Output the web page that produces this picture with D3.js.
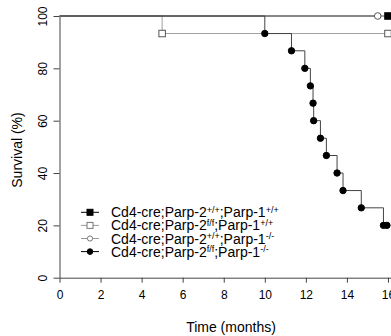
<!DOCTYPE html>
<html>
<head>
<meta charset="utf-8">
<script src="https://cdn.jsdelivr.net/npm/d3@7"></script>
<style>
  body { margin: 0; background: #fff; }
  svg { font-family: "Liberation Sans", Arial, sans-serif; }
</style>
</head>
<body>
<svg id="chart" width="391" height="336"></svg>
<script>
// data
const xTicks = [0, 2, 4, 6, 8, 10, 12, 14, 16];
const yTicks = [0, 20, 40, 60, 80, 100];

// Cd4-cre;Parp-2+/+;Parp-1+/+  (no deaths, censored at end)
const wtTimes = [0, 16];
const wtSurv = [100, 100];
const wtMarks = [16];
const wtMarkSurv = [100];

// Cd4-cre;Parp-2f/f;Parp-1+/+
const p2Times = [0, 5, 16];
const p2Surv = [100, 93.3, 93.3];
const p2Marks = [5, 16];
const p2MarkSurv = [93.3, 93.3];

// Cd4-cre;Parp-2+/+;Parp-1-/-
const p1Times = [0, 15.5];
const p1Surv = [100, 100];
const p1Marks = [15.5];
const p1MarkSurv = [100];

// Cd4-cre;Parp-2f/f;Parp-1-/-
const dkoTimes = [0, 10, 11.3, 11.95, 12.22, 12.35, 12.38, 12.71, 13.0, 13.52, 13.81, 14.7, 15.78, 15.95];
const dkoSurv = [100, 93.3, 86.7, 80, 73.3, 66.7, 60, 53.3, 46.7, 40, 33.3, 26.7, 20, 20];
const dkoMarks = [10, 11.3, 11.95, 12.22, 12.35, 12.38, 12.71, 13.0, 13.52, 13.81, 14.7, 15.78, 15.95];
const dkoMarkSurv = [93.3, 86.7, 80, 73.3, 66.7, 60, 53.3, 46.7, 40, 33.3, 26.7, 20, 20];

const legendLabels = [
  ["Cd4-cre;Parp-2", "+/+", ";Parp-1", "+/+"],
  ["Cd4-cre;Parp-2", "f/f", ";Parp-1", "+/+"],
  ["Cd4-cre;Parp-2", "+/+", ";Parp-1", "-/-"],
  ["Cd4-cre;Parp-2", "f/f", ";Parp-1", "-/-"]
];

const svg = d3.select("#chart");

let x = d3.scaleLinear().domain([0, 16.6]).range([59.5, 59.5 + 16.6 * 20.53]);
let y = d3.scaleLinear().domain([0, 100]).range([277.7, 16]);

// x axis
let gx = svg.append("g")
  .attr("transform", "translate(0," + y(0) + ")")
  .call(d3.axisBottom(x).tickValues(xTicks).tickSize(5).tickSizeOuter(0).tickPadding(8));
gx.select(".domain").attr("stroke", "#444");
gx.selectAll(".tick line").attr("stroke", "#444");
gx.selectAll(".tick text").attr("font-size", 12).attr("fill", "#000")
  .attr("font-family", "Liberation Sans, Arial, sans-serif");

// y axis
let gy = svg.append("g")
  .attr("transform", "translate(" + x(0) + ",0)")
  .call(d3.axisLeft(y).tickValues(yTicks).tickSize(6).tickSizeOuter(0));
gy.select(".domain").attr("stroke", "#444");
gy.selectAll(".tick line").attr("stroke", "#444");
gy.selectAll(".tick text")
  .attr("x", null).attr("dy", null)
  .attr("transform", "translate(-13,0) rotate(-90)")
  .attr("text-anchor", "middle")
  .attr("font-size", 12).attr("fill", "#000")
  .attr("font-family", "Liberation Sans, Arial, sans-serif");

// step lines
let step = d3.line()
  .x(function(d) { return x(d[0]); })
  .y(function(d) { return y(d[1]); })
  .curve(d3.curveStepAfter);

function curve(times, surv, color) {
  svg.append("path")
    .datum(d3.zip(times, surv))
    .attr("fill", "none")
    .attr("stroke", color)
    .attr("stroke-width", 1)
    .attr("d", step);
}

curve(p2Times, p2Surv, "#a0a0a0");
curve(p1Times, p1Surv, "#777");
curve(wtTimes, wtSurv, "#555");
curve(dkoTimes, dkoSurv, "#444");

// markers
function squares(times, surv, fill, size) {
  svg.selectAll(null)
    .data(d3.zip(times, surv))
    .enter()
    .append("rect")
    .attr("x", function(d) { return x(d[0]) - size / 2; })
    .attr("y", function(d) { return y(d[1]) - size / 2; })
    .attr("width", size)
    .attr("height", size)
    .attr("fill", fill)
    .attr("stroke", fill == "#fff" ? "#555" : "#000")
    .attr("stroke-width", 1);
}

function dots(times, surv, fill, r) {
  svg.selectAll(null)
    .data(d3.zip(times, surv))
    .enter()
    .append("circle")
    .attr("cx", function(d) { return x(d[0]); })
    .attr("cy", function(d) { return y(d[1]); })
    .attr("r", r)
    .attr("fill", fill)
    .attr("stroke", fill == "#fff" ? "#555" : "#000")
    .attr("stroke-width", 1);
}

squares(p2Marks, p2MarkSurv, "#fff", 6.5);
dots(p1Marks, p1MarkSurv, "#fff", 3.3);
squares(wtMarks, wtMarkSurv, "#000", 6.5);
dots(dkoMarks, dkoMarkSurv, "#000", 3.2);

// legend
let legend = svg.append("g");
let rowY = [212.3, 225.4, 238.5, 251.6];
let lineCols = ["#000", "#999", "#999", "#000"];

legendLabels.forEach(function(lab, i) {
  let cy = rowY[i];
  legend.append("line")
    .attr("x1", 81).attr("x2", 99).attr("y1", cy).attr("y2", cy)
    .attr("stroke", lineCols[i]).attr("stroke-width", 1);
  if (i < 2) {
    legend.append("rect")
      .attr("x", 87).attr("y", cy - 3).attr("width", 6).attr("height", 6)
      .attr("fill", i == 0 ? "#000" : "#fff")
      .attr("stroke", i == 0 ? "#000" : "#777");
  } else {
    legend.append("circle")
      .attr("cx", 90).attr("cy", cy).attr("r", i == 3 ? 2.8 : 2.6)
      .attr("fill", i == 3 ? "#000" : "#fff")
      .attr("stroke", i == 3 ? "#000" : "#777");
  }
  let t = legend.append("text")
    .attr("x", 111).attr("y", cy + 5)
    .attr("font-size", 14).attr("fill", "#000");
  t.append("tspan").text(lab[0]);
  t.append("tspan").attr("font-size", 9).attr("dy", -4.5).text(lab[1]);
  t.append("tspan").attr("dy", 4.5).text(lab[2]);
  t.append("tspan").attr("font-size", 9).attr("dy", -4.5).text(lab[3]);
});

// axis titles
svg.append("text")
  .attr("x", 231).attr("y", 332)
  .attr("text-anchor", "middle")
  .attr("font-size", 14)
  .text("Time (months)");

svg.append("text")
  .attr("transform", "translate(22,150) rotate(-90)")
  .attr("text-anchor", "middle")
  .attr("font-size", 14)
  .text("Survival (%)");
</script>
</body>
</html>
